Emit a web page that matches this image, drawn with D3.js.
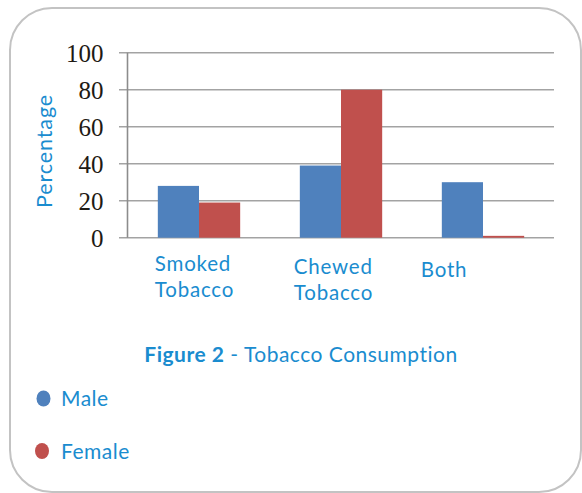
<!DOCTYPE html>
<html><head><meta charset="utf-8">
<script src="https://cdn.jsdelivr.net/npm/d3@7"></script>
<style>body{margin:0;background:#fff}svg{display:block}</style>
</head><body>
<svg id="c" width="582" height="493"></svg>
<script>
const categories = ["Smoked Tobacco", "Chewed Tobacco", "Both"];
const categoryLines = [["Smoked", "Tobacco"], ["Chewed", "Tobacco"], ["Both"]];
const series = ["Male", "Female"];
const maleValues = [28, 39, 30];
const femaleValues = [19, 80, 1];
const yTicks = [0, 20, 40, 60, 80, 100];
const colors = ["#4f81bd", "#c0504d"];
const textBlue = "#1a8ccf";

(function () {
const svg = d3.select("#c");
// rounded frame
svg.append("rect").attr("x", 10).attr("y", 8).attr("width", 571).attr("height", 484)
  .attr("rx", 42).attr("ry", 42).attr("fill", "#fff").attr("stroke", "#c3c3c3").attr("stroke-width", 2);

const pLeft = 127.5, pRight = 554, pTop = 52.7, pBottom = 237.7;
const y = d3.scaleLinear().domain([0, 100]).range([pBottom, pTop]);
const x0 = d3.scaleBand().domain(categories).range([128, 554]).paddingInner(0.42).paddingOuter(0.21);
const x1 = d3.scaleBand().domain(series).range([0, x0.bandwidth()]);

// gridlines
svg.append("g").selectAll("line").data(yTicks).join("line")
  .attr("x1", 119).attr("x2", pRight).attr("y1", d => y(d)).attr("y2", d => y(d))
  .attr("stroke", "#a3a3a3").attr("stroke-width", 1.6);

// y axis labels
const yAxis = d3.axisLeft(y).tickValues(yTicks).tickSize(0).tickPadding(24);
const gy = svg.append("g").attr("transform", `translate(${pLeft},0)`).call(yAxis);
gy.select(".domain").remove();
gy.selectAll("text").attr("font-family", "Liberation Serif").attr("font-size", 25)
  .attr("fill", "#1e1a14").attr("dy", "0.34em");

// bars
const data = categories.map((c, i) => ({cat: c, vals: [maleValues[i], femaleValues[i]]}));
const groups = svg.append("g").selectAll("g").data(data).join("g")
  .attr("transform", d => `translate(${x0(d.cat)},0)`);
groups.selectAll("rect").data(d => d.vals.map((v, j) => ({s: series[j], v, j}))).join("rect")
  .attr("x", d => x1(d.s)).attr("width", x1.bandwidth())
  .attr("y", d => y(d.v)).attr("height", d => y(0) - y(d.v))
  .attr("fill", d => colors[d.j]);

// y axis line
svg.append("line").attr("x1", pLeft).attr("x2", pLeft).attr("y1", pTop).attr("y2", pBottom)
  .attr("stroke", "#8c8c8c").attr("stroke-width", 1.6);

const font = "Lato";
// y title
svg.append("text").attr("transform", "translate(52,151) rotate(-90)")
  .attr("text-anchor", "middle").attr("font-family", font).attr("font-size", 21.5)
  .attr("letter-spacing", 0.9).attr("fill", textBlue).text("Percentage");

// category labels
const labelOffsets = [-3, -6, -21];
const labelBaselines = [271, 274, 277];
categoryLines.forEach((lines, i) => {
  const t = svg.append("text").attr("font-family", font).attr("font-size", 20.5)
    .attr("letter-spacing", 0.8).attr("fill", textBlue)
    .attr("x", x0(categories[i]) + labelOffsets[i]).attr("y", labelBaselines[i]);
  lines.forEach((l, k) => t.append("tspan").attr("x", x0(categories[i]) + labelOffsets[i])
    .attr("dy", k === 0 ? 0 : 25.5).text(l));
});

// figure title
const title = svg.append("text").attr("x", 301).attr("y", 362).attr("text-anchor", "middle")
  .attr("font-family", font).attr("font-size", 21).attr("letter-spacing", 0.5).attr("fill", textBlue);
title.append("tspan").attr("font-weight", "bold").text("Figure 2");
title.append("tspan").text(" - Tobacco Consumption");

// legend
const legend = svg.append("g").selectAll("g").data(series).join("g")
  .attr("transform", (d, i) => `translate(0,${i * 52.5})`);
legend.append("ellipse").attr("cx", (d, i) => 43.5 - i * 1.5).attr("cy", 398.5)
  .attr("rx", 7).attr("ry", 8).attr("fill", (d, i) => colors[i]);
legend.append("text").attr("x", 61).attr("y", 406).attr("font-family", font).attr("font-size", 21)
  .attr("letter-spacing", 0.5).attr("fill", textBlue).text(d => d);
})();
</script>
</body></html>
